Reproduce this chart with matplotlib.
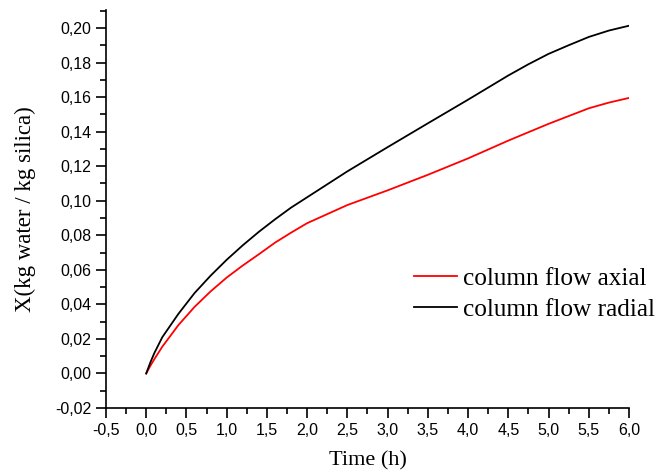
import matplotlib
matplotlib.use("Agg")
import matplotlib.pyplot as plt
from matplotlib.ticker import FuncFormatter, MultipleLocator

time_radial = [0, 0.05, 0.1, 0.2, 0.4, 0.6, 0.8, 1.0, 1.2, 1.4, 1.6, 1.8, 2.0, 2.5, 3.0, 3.5, 4.0,
               4.25, 4.5, 4.75, 5.0, 5.25, 5.5, 5.75, 6.0]
x_radial = [0, 0.0062, 0.0117, 0.021, 0.0345, 0.0465, 0.0566, 0.0658, 0.0742, 0.082, 0.0892, 0.096, 0.102,
            0.117, 0.131, 0.1448, 0.1585, 0.1655, 0.1725, 0.179, 0.185, 0.190, 0.1948, 0.1985, 0.2013]

time_axial = [0, 0.05, 0.1, 0.2, 0.4, 0.6, 0.8, 1.0, 1.2, 1.4, 1.6, 1.8, 2.0, 2.5, 3.0, 3.5, 4.0,
              4.5, 5.0, 5.5, 5.75, 6.0]
x_axial = [0, 0.0043, 0.0082, 0.0155, 0.028, 0.0385, 0.0475, 0.0555, 0.0625, 0.069, 0.0757, 0.0815, 0.087,
           0.0975, 0.106, 0.115, 0.1245, 0.1348, 0.1445, 0.1535, 0.1568, 0.1595]

fig = plt.figure(figsize=(6.59, 4.74), dpi=100)
ax = fig.add_axes([0.1608, 0.1392, 0.7937, 0.8397])

ax.plot(time_axial, x_axial, color="#ff0000", lw=1.3, label="column flow axial")
ax.plot(time_radial, x_radial, color="black", lw=1.3, label="column flow radial")

ax.set_xlim(-0.5, 6.0)
ax.set_ylim(-0.02, 0.2104)
ax.spines["top"].set_visible(False)
ax.spines["right"].set_visible(False)
for s in ("left", "bottom"):
    ax.spines[s].set_linewidth(1.2)

ax.xaxis.set_major_locator(MultipleLocator(0.5))
ax.xaxis.set_minor_locator(MultipleLocator(0.25))
ax.yaxis.set_major_locator(MultipleLocator(0.02))
ax.yaxis.set_minor_locator(MultipleLocator(0.01))
ax.xaxis.set_major_formatter(FuncFormatter(lambda v, p: f"{v:.1f}".replace(".", ",")))
ax.yaxis.set_major_formatter(FuncFormatter(lambda v, p: f"{v:.2f}".replace(".", ",")))
ax.tick_params(which="major", direction="out", length=7, width=1.2, labelsize=11.5)
ax.tick_params(which="minor", direction="out", length=4, width=1.2)
for lab in ax.get_xticklabels() + ax.get_yticklabels():
    lab.set_family("Liberation Sans")

ax.set_xlabel("Time (h)", family="Liberation Serif", fontsize=16, labelpad=10)
ax.set_ylabel("X(kg water / kg silica)", family="Liberation Serif", fontsize=16.5, labelpad=14)

leg = ax.legend(loc="center left", bbox_to_anchor=(0.545, 0.286), frameon=False,
                prop={"family": "Liberation Serif", "size": 18.2},
                handlelength=1.7, handletextpad=0.25, labelspacing=0.32)

fig.savefig("out.png", dpi=100)
